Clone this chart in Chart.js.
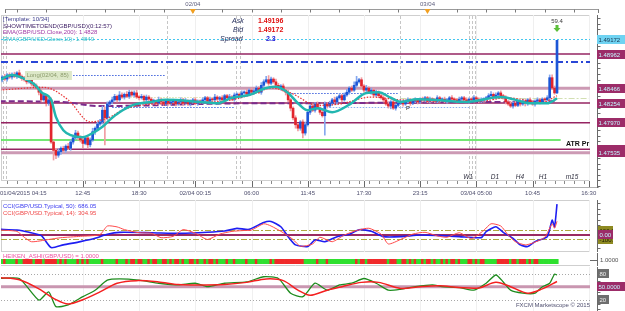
<!DOCTYPE html>
<html>
<head>
<meta charset="utf-8">
<script src="https://cdn.jsdelivr.net/npm/chart.js@4.4.1/dist/chart.umd.min.js"></script>
<style>
html,body{margin:0;padding:0;background:#fff;}
#wrap{position:relative;width:625px;height:311px;overflow:hidden;background:#fff;}
canvas{position:absolute;left:0;}
</style>
</head>
<body>
<div id="wrap">
<canvas id="mainCanvas" width="625" height="197" style="top:0px"></canvas>
<canvas id="cciCanvas" width="625" height="56" style="top:197px"></canvas>
<canvas id="haCanvas" width="625" height="13" style="top:253px"></canvas>
<canvas id="stoCanvas" width="625" height="45" style="top:266px"></canvas>
</div>
<script>
// m15 GBP/USD candles, prices in pips above 1.4700
const BASE = 1.47, PIP = 0.0001;
const firstOpen = 156;
const closes = [
  159,163,160,166,163, 167,164,169,164,161,159, 156,159,153,150,147, 141,130,136,125, 130,69,57,
  50,55,60,57,63,60, 69,75,82,76,72, 67,75,65,72, 84,89,95,98, 115,104,124,127,
  130,135,130,137,134, 138,135,141,137,140,134, 133,135,130,134,131,128,
  128,125,130,127,124,128,125,127, 128,124,127,130,125,128,124,127,130,125,128,127,
  130,133,128,131,130,134,131,133,130,136,133,134,131,137, 138,136,140,141,138,144,141,143,147,141,
  151,156,159,154,160,156, 151,147,150,144,141, 130,118,104,94,89,98, 82,94,112,
  121,115,124,118, 112,107,124,121, 125,130,127,133,136,130, 137,141,147,144,151,156,159,
  150,144,147,141, 144,137,141,136,133, 130,124,121,127,118,122,125,
  127,124,128,130,125,128,130,127,131,
  130,133,128,131,130,128,133,130,131,128,130,133,131,130,128,131,133,130,128,131,130,133,131,128,130,131,133,
  136,138,134,137,140,136,133, 127,124,121,125,122,127,124, 128,125,130,127,124,128,130,127,131,
  130,133, 162,147,140,216
];
const upWick = [
  3,2,4,2,3,2,3,2,4,2, 3,2,3,2,2,3,2,4,3,2, 2,3,2,3,4,2,3,2,4,3, 2,4,3,2,3,2,4,3,5,2,
  3,4,6,5,3,2,4,3,2,5, 3,2,4,3,2,3,4,2,3,2, 3,2,2,3,2,4,2,3,2,3, 2,3,2,2,3,2,4,2,3,2,
  3,2,2,3,2,2,3,2,4,2, 2,3,2,2,4,2,3,2,2,3, 2,4,2,3,2,3,2,4,3,5, 6,3,2,4,3,2,3,2,3,2,
  2,3,2,2,3,4,3,2,3,2, 3,2,4,3,2,3,2,4,2,3, 2,3,4,2,3,5,8,2,3,2, 4,2,3,2,3,2,2,3,2,3,
  2,3,2,2,3,2,2,3,2,2, 3,2,2,3,2,2,3,2,2,3, 2,2,3,2,2,3,2,2,3,2, 2,3,2,2,3,2,2,3,2,2,
  3,4,2,3,2,3,2,3,2,4, 2,3,2,2,3,2,2,3,2,2, 3,2,2,2,3,4,4,3,0
];
const downWick = [
  2,3,2,3,2,3,2,3,2,3, 2,3,2,3,2,2,4,3,2,4, 3,2,14,5,3,4,2,3,2,3, 3,2,4,3,6,2,5,3,2,4,
  3,2,3,39,3,2,3,2,3,2, 2,3,2,3,2,3,2,3,2,3, 2,3,2,3,2,2,3,2,2,3, 2,2,3,2,2,3,2,2,3,2,
  2,3,2,2,3,2,2,3,2,2, 3,2,2,3,2,2,3,2,2,3, 2,3,2,2,3,2,2,3,2,2, 3,2,2,3,2,3,2,4,3,4,
  3,5,4,3,7,3,2,3,2,3, 2,3,2,28,3,2,3,2,3,2, 3,2,2,3,2,2,3,2,2,3, 2,2,3,2,2,3,2,3,2,3,
  4,2,3,2,2,3,2,2,3,2, 2,3,2,2,3,2,2,3,2,2, 3,2,2,3,2,2,3,2,2,3, 2,2,3,2,2,3,2,2,3,2,
  2,3,4,2,3,2,2,3,2,2, 3,2,2,3,2,4,3,2,2,3, 2,3,2,3,2,3,2,2,1
];
// Heiken Ashi colour per bar: g = up, r = down
const haTrend = ("ggrggggrgg" + "rrrrgrrrgrrrr" + "rgrgrggggrg" + "rgrgggggrggg" +
  "ggrgggrgrrgrrggrg" + "rrggrrgrgrrgrggrrgrg" + "grgrrgrgggrggrggggrgggrg" + "ggggrgrrrrr" +
  "rrrrrrrgg" + "gggrgggrgggggggggggrg" + "rrgrrrrrrrrgrrrg" + "grrgrgrggrgrrgrggrgrgrrgrgggrrgrgrrg" +
  "ggggrrrrrgrrgr" + "rrgrgrrgggggggg").split("");

// moving averages (pips above 1.4700), sampled at bar indexes
const ema10Bars = [0,5,9,14,17,21,23,26,29,34,38,42,45,49,55,62,68,82,89,95,102,109,113,118,122,126,130,136,143,150,155,160,164,171,177,191,205,210,217,224,228];
const ema10 = [159,166,162,153,141,130,105,86,79,76,82,91,101,112,123,127,130,127,125,133,137,147,149,140,125,115,118,112,123,140,141,133,127,131,130,127,134,131,125,125,132];
const ema200Bars = [0,25,41,62,82,102,123,164,205,228];
const ema200 = [128,127,121,122,124,125,125,126,127,128];
const smaBars = [0,18,28,37,45,50,57,74,95,105,111,119,130,139,152,164,180,197,207,213,221,228];
const sma = [144,148,130,98,105,115,122,125,130,140,147,140,122,124,134,130,128,128,133,131,125,136];
const ema200Last = 1.4828, ema10Last = 1.4849;

// CCI 50 / CCI 14
const cci50Bars = [0,7,12,17,21,26,33,39,44,49,62,74,85,92,97,102,108,111,115,118,121,126,129,133,138,143,147,152,157,164,172,180,188,197,199,203,206,210,213,216,219,224,226,227,228];
const cci50 = [125,110,60,-15,-280,-220,-147,-73,15,59,51,37,60,88,147,125,279,300,183,-37,-220,-257,-110,-150,-37,15,117,82,-37,-37,0,-15,-37,-59,73,183,59,-73,-220,-257,-147,-37,330,183,686];
const cci14Bars = [0,7,10,13,20,25,33,41,44,48,51,57,62,66,71,75,80,85,90,95,100,103,108,111,116,120,123,128,131,136,141,146,151,156,159,164,169,174,179,183,188,193,198,201,205,208,211,215,218,223,226,227,228];
const cci14 = [110,80,-50,-150,-100,-60,-30,10,200,180,120,50,40,-60,-30,120,40,-100,20,80,100,110,250,200,50,-100,-250,-200,-50,-150,0,100,150,20,-200,-100,20,60,-20,-50,50,-80,100,250,200,0,-150,-220,-180,-50,250,150,305];
const cci50Last = 686.05, cci14Last = 304.95;

// stochastic %K / %D
const stochKBars = [0,8,16,20,23,28,34,39,44,49,57,65,73,80,85,92,101,108,114,119,124,129,134,139,144,149,154,159,164,170,177,181,188,194,199,203,206,209,214,219,222,225,227,228];
const stochK = [69,69,19,38,4,8,27,42,65,68,65,58,54,58,50,58,61,73,69,35,27,58,42,54,58,69,58,42,44,50,54,50,48,42,58,77,61,42,35,35,50,58,79,77];
const stochDBars = [0,8,16,23,28,34,41,48,56,65,73,81,92,101,109,116,122,127,134,140,148,155,164,172,180,188,196,203,209,216,222,228];
const stochD = [71,66,45,20,10,20,38,58,64,61,55,54,55,60,68,64,42,30,42,50,60,60,46,50,52,48,47,60,50,35,45,62];

// price levels
const bid = 1.49172, ask = 1.49196, spread = 2.3, timerPct = 59.4;
const pivots = [1.48962, 1.48466, 1.48254, 1.47970, 1.47585, 1.47535];
const entryLine = 1.48846, atrLine = 1.47719;
const markLevels = [1.48659, 1.48399, 1.48196, 1.48203, 1.48340, 1.48326];
const markFrom = [30, 118, 135, 46, 46, 164];
const markTo = [68, 163, 192, 96, 96, 241];
const sessionBreaks = [1.3, 2.5, 68.4, 96.7, 98.3, 163.8, 192, 193.3, 194.5];

// axes
const startLabel = "01/04/2015 04:15";
const timeTicks = [34, 57, 80, 103, 126, 149, 172, 195, 218, 241];
const timeLabels = ["12:45", "18:30", "02/04 00:15", "06:00", "11:45", "17:30", "23:15", "03/04 05:00", "10:45", "16:30"];
const dayTicks = [79, 175], dayLabels = ["02/04", "03/04"];
const periodLabels = ["W1", "D1", "H4", "H1", "m15"];

// ---------- helpers ----------
const FF = '"Liberation Sans", Arial, sans-serif';
const SMALL = '6px ' + FF;
const px = p => BASE + p * PIP;
const crisp = v => Math.round(v) + 0.5;
const pts = (xs, ys, f) => xs.map((b, i) => ({ x: b, y: f ? f(ys[i]) : ys[i] }));

function seg(ctx, x0, y0, x1, y1, color, w, dash) {
  ctx.save();
  ctx.strokeStyle = color; ctx.lineWidth = w || 1; ctx.setLineDash(dash || []);
  ctx.beginPath(); ctx.moveTo(x0, y0); ctx.lineTo(x1, y1); ctx.stroke();
  ctx.restore();
}
function txt(ctx, s, x, y, color, align, font) {
  ctx.save();
  ctx.font = font || SMALL; ctx.fillStyle = color;
  ctx.textAlign = align || 'left'; ctx.textBaseline = 'middle';
  ctx.fillText(s, x, y);
  ctx.restore();
}
function tag(ctx, s, x, yc, w, bg, fg) {
  const top = Math.round(yc - 4.5);
  ctx.save();
  ctx.fillStyle = bg; ctx.fillRect(x, top, w, 9);
  ctx.beginPath(); ctx.rect(x, top, w, 9); ctx.clip();
  ctx.font = SMALL; ctx.fillStyle = fg; ctx.textBaseline = 'middle';
  ctx.fillText(s, x + 1.5, top + 5);
  ctx.restore();
}
function rightAxis(ctx, top, bottom) {
  seg(ctx, 597.5, top, 597.5, bottom, '#6a6a6a', 1);
  for (let yy = top + 3; yy < bottom; yy += 5.6) seg(ctx, 598, crisp(yy), 600.5, crisp(yy), '#6a6a6a', 1);
}
function frame(ctx, a) {
  ctx.save(); ctx.strokeStyle = '#cfcfcf'; ctx.lineWidth = 1;
  ctx.strokeRect(a.left + 0.5, a.top + 0.5, a.right - a.left - 1, a.bottom - a.top - 1);
  ctx.restore();
}
const xScale = { type: 'linear', min: 0.5, max: 241.5, offset: false, grid: { offset: false }, display: false };
const baseOpts = (pad, ymin, ymax) => ({
  responsive: false, animation: false, devicePixelRatio: 1,
  layout: { padding: pad },
  scales: { x: xScale, y: { display: false, min: ymin, max: ymax } },
  plugins: { legend: { display: false }, tooltip: { enabled: false } }
});

// ---------- main price panel ----------
const opens = closes.map((c, i) => i === 0 ? firstOpen : closes[i - 1]);
const isUp = closes.map((c, i) => c >= opens[i]);
const bodies = closes.map((c, i) => ({ x: i, y: [px(opens[i]), px(c)] }));
const wicks = closes.map((c, i) => ({ x: i, y: [px(Math.min(opens[i], c) - downWick[i]), px(Math.max(opens[i], c) + upWick[i])] }));

const mainDeco = {
  id: 'mainDeco',
  beforeDatasetsDraw(chart) {
    const { ctx, chartArea: a, scales: { x, y } } = chart;
    const X = v => x.getPixelForValue(v), Y = v => y.getPixelForValue(v);
    frame(ctx, a);
    timeTicks.forEach(t => seg(ctx, crisp(X(t)), a.top, crisp(X(t)), a.bottom, '#efefef', 1));
    sessionBreaks.forEach(t => seg(ctx, crisp(X(t)), a.top + 1, crisp(X(t)), a.bottom, '#c6c6c6', 1, [3, 2]));
    const hl = (price, color, w, dash, b0, b1) => {
      const yy = w === 1 ? crisp(Y(price)) : Y(price);
      const x0 = b0 == null ? a.left : X(b0), x1 = b1 == null ? a.right : Math.min(a.right, X(b1));
      seg(ctx, x0, yy, x1, yy, color, w, dash);
    };
    pivots.forEach((p, i) => {
      if (i === 1 || i === 5) hl(p, '#cc9ab4', 3);
      else hl(p, '#952462', 1.5);
    });
    hl(bid, '#46c6ee', 1, [2, 2]);
    hl(entryLine, '#2a46d6', 2, [7, 3, 2, 3]);
    hl(atrLine, '#44e044', 1.5, [], null, 229.5);
    const markStyle = [['#4466dd', [1.5, 1.5]], ['#4466dd', [1.5, 1.5]], ['#8cb0f2', [1.5, 1.5]],
                       ['#4a72e0', [1.5, 1.5]], ['#dfe2ac', [1.5, 1.5]], ['#d2dfb2', [6, 2, 2, 2]]];
    markLevels.forEach((p, i) => hl(p, markStyle[i][0], 1, markStyle[i][1], markFrom[i], markTo[i]));
  },
  afterDatasetsDraw(chart) {
    const { ctx, chartArea: a, scales: { x, y } } = chart;
    const X = v => x.getPixelForValue(v), Y = v => y.getPixelForValue(v);
    // top date axis
    seg(ctx, 5, 9.5, 599, 9.5, '#9a9a9a', 1);
    seg(ctx, 5.5, 9.5, 5.5, 13, '#7a7a7a', 1);
    seg(ctx, 598.5, 9.5, 598.5, 13, '#7a7a7a', 1);
    for (let b = 7; b <= 241; b += 12) seg(ctx, crisp(X(b)), 9.5, crisp(X(b)), 12.5, '#7a7a7a', 1);
    dayTicks.forEach((b, i) => {
      const p = X(b);
      ctx.save(); ctx.fillStyle = '#f2a020';
      ctx.beginPath(); ctx.moveTo(p - 3, 9); ctx.lineTo(p + 3, 9); ctx.lineTo(p, 14); ctx.closePath(); ctx.fill();
      ctx.restore();
      txt(ctx, dayLabels[i], p, 4, '#5c5c7c', 'center');
    });
    // bottom time axis
    for (let b = 3; b <= 241; b += 4) seg(ctx, crisp(X(b)), a.bottom, crisp(X(b)), a.bottom + 3, '#8a8a8a', 1);
    seg(ctx, 0, a.bottom + 6.5, 599, a.bottom + 6.5, '#b0b0b0', 1);
    timeTicks.forEach((b, i) => {
      seg(ctx, crisp(X(b)), a.bottom, crisp(X(b)), a.bottom + 6, '#6a6a6a', 1);
      txt(ctx, timeLabels[i], X(b), 193, '#4e4e6e', 'center');
    });
    txt(ctx, startLabel, 0, 193, '#4e4e6e', 'left');
    // right price axis
    rightAxis(ctx, a.top, a.bottom + 7);
    tag(ctx, bid.toFixed(5), 597, Y(bid), 28, '#6fd3f2', '#17364f');
    pivots.forEach(p => tag(ctx, p.toFixed(5), 597, Y(p), 28, '#9c2c68', '#c4f6ff'));
    // info texts
    txt(ctx, '[Template: 10/34]', 3, 19.5, '#3c3c8c');
    txt(ctx, 'SHOWTIMETOEND(GBP/USD)(0:12:57)', 3, 26, '#3a1a62');
    txt(ctx, 'EMA(GBP/USD.Close,200): ' + ema200Last.toFixed(4), 3, 32.5, '#a03aa6');
    txt(ctx, 'EMA(GBP/USD.Close,10): ' + ema10Last.toFixed(4), 3, 39, '#3cc0c8');
    const IT = 'italic 7px ' + FF, BD = 'bold 7px ' + FF;
    txt(ctx, 'Ask', 232, 21, '#26305e', 'left', IT);
    txt(ctx, ask.toFixed(5), 258, 21, '#e01010', 'left', BD);
    txt(ctx, 'Bid', 233, 30, '#26305e', 'left', IT);
    txt(ctx, bid.toFixed(5), 258, 30, '#e01010', 'left', BD);
    txt(ctx, 'Spread', 220, 39, '#26305e', 'left', IT);
    txt(ctx, spread.toFixed(1), 266, 39, '#2020d8', 'left', BD);
    // timer arrow above the live bar
    const lx = X(228);
    txt(ctx, timerPct.toFixed(1), lx, 21, '#3a3a3a', 'center');
    ctx.save(); ctx.fillStyle = '#5cbf3a';
    ctx.fillRect(lx - 1.5, 25, 3, 3);
    ctx.beginPath(); ctx.moveTo(lx - 3.5, 28); ctx.lineTo(lx + 3.5, 28); ctx.lineTo(lx, 32); ctx.closePath(); ctx.fill();
    ctx.restore();
    // long order label
    const ly = Y(markLevels[0]);
    ctx.save(); ctx.fillStyle = '#dde8c8'; ctx.fillRect(X(10.3), Math.round(ly) - 4, X(29.5) - X(10.3), 9); ctx.restore();
    txt(ctx, 'Long(02/04, 85)', X(10.3) + 1.5, Math.round(ly) + 0.5, '#8c9c6c');
    txt(ctx, 'P', X(167), Y(markLevels[2]) + 1, '#202020', 'center', '6px ' + FF);
    txt(ctx, 'ATR Pr', 566, 144, '#101010', 'left', 'bold 7px ' + FF);
    const perX = [468, 495, 520, 543, 572];
    periodLabels.forEach((s, i) => txt(ctx, s, perX[i], 177, '#2e2e3e', 'center', 'italic 6.5px ' + FF));
  }
};

new Chart(document.getElementById('mainCanvas'), {
  type: 'bar',
  data: {
    datasets: [
      { type: 'line', data: pts(ema200Bars, ema200, px), borderColor: '#7b2c8c', borderWidth: 2, borderDash: [6, 3],
        pointRadius: 0, cubicInterpolationMode: 'monotone', order: 4 },
      { data: wicks, backgroundColor: isUp.map(u => u ? '#86a8ee' : '#f19ca2'), barThickness: 1, grouped: false, order: 3 },
      { data: bodies, backgroundColor: isUp.map(u => u ? '#1c56d6' : '#e2252d'), barThickness: 2, minBarLength: 1, grouped: false, order: 2 },
      { type: 'line', data: pts(smaBars, sma, px), borderColor: '#e83030', borderWidth: 1.2, borderDash: [1.5, 1.5],
        pointRadius: 0, cubicInterpolationMode: 'monotone', order: 1 },
      { type: 'line', data: pts(ema10Bars, ema10, px), borderColor: '#22b6b0', borderWidth: 2.5,
        pointRadius: 0, cubicInterpolationMode: 'monotone', order: 0 }
    ]
  },
  options: baseOpts({ left: 1, right: 35, top: 15, bottom: 16 }, px(12.7), px(252.6)),
  plugins: [mainDeco]
});

// ---------- CCI panel ----------
const cciDeco = {
  id: 'cciDeco',
  beforeDatasetsDraw(chart) {
    const { ctx, chartArea: a, scales: { x, y } } = chart;
    const X = v => x.getPixelForValue(v), Y = v => y.getPixelForValue(v);
    frame(ctx, a);
    timeTicks.forEach(t => seg(ctx, crisp(X(t)), a.top, crisp(X(t)), a.bottom, '#efefef', 1));
    seg(ctx, a.left, crisp(Y(100)), a.right, crisp(Y(100)), '#b0a840', 1, [6, 2, 2, 2]);
    seg(ctx, a.left, crisp(Y(-100)), a.right, crisp(Y(-100)), '#b0a840', 1, [6, 2, 2, 2]);
    seg(ctx, a.left, Y(0), a.right, Y(0), '#9a2a62', 2);
  },
  afterDatasetsDraw(chart) {
    const { ctx, chartArea: a, scales: { y } } = chart;
    const Y = v => y.getPixelForValue(v);
    txt(ctx, 'CCI(GBP/USD.Typical, 50): ' + cci50Last.toFixed(2), 3, 9, '#3a3af0');
    txt(ctx, 'CCI(GBP/USD.Typical, 14): ' + cci14Last.toFixed(2), 3, 16, '#f04848');
    rightAxis(ctx, a.top, a.bottom);
    tag(ctx, '100.00', 598, Y(100), 15, '#8e8a22', '#1a1a00');
    tag(ctx, '-100.0', 598, Y(-100), 15, '#8e8a22', '#1a1a00');
    tag(ctx, '0.00', 598, Y(0), 15, '#9c2c68', '#c4f6ff');
  }
};
new Chart(document.getElementById('cciCanvas'), {
  type: 'line',
  data: {
    datasets: [
      { data: pts(cci14Bars, cci14), borderColor: '#ff4a4a', borderWidth: 1, pointRadius: 0, tension: 0.2 },
      { data: pts(cci50Bars, cci50), borderColor: '#1e1ef2', borderWidth: 1.6, pointRadius: 0, tension: 0.2 }
    ]
  },
  options: baseOpts({ left: 1, right: 35, top: 3, bottom: 1 }, -378, 778),
  plugins: [cciDeco]
});

// ---------- Heiken Ashi strip ----------
const haDeco = {
  id: 'haDeco',
  afterDatasetsDraw(chart) {
    const { ctx, chartArea: a } = chart;
    txt(ctx, 'HEIKEN_ASHI(GBP/USD) = 1.0000', 3, 3, '#ee4fa0');
    seg(ctx, 597.5, 0, 597.5, 13, '#6a6a6a', 1);
    seg(ctx, 590, 7.5, 598, 7.5, '#6a6a6a', 1);
    txt(ctx, '1.0000', 600, 7.5, '#505050');
    seg(ctx, a.left, 12.5, a.right, 12.5, '#cfcfcf', 1);
  }
};
new Chart(document.getElementById('haCanvas'), {
  type: 'bar',
  data: {
    datasets: [{ data: haTrend.map((t, i) => ({ x: i, y: [0, 1] })),
      backgroundColor: haTrend.map(t => t === 'g' ? '#2fe02f' : '#f02a2a'), barThickness: 2.5, grouped: false }]
  },
  options: baseOpts({ left: 1, right: 35, top: 6, bottom: 2 }, 0, 1),
  plugins: [haDeco]
});

// ---------- Stochastic panel ----------
const stoDeco = {
  id: 'stoDeco',
  beforeDatasetsDraw(chart) {
    const { ctx, chartArea: a, scales: { x, y } } = chart;
    const X = v => x.getPixelForValue(v), Y = v => y.getPixelForValue(v);
    timeTicks.forEach(t => seg(ctx, crisp(X(t)), a.top, crisp(X(t)), a.bottom, '#f0f0f0', 1));
    seg(ctx, a.left, crisp(Y(80)), a.right, crisp(Y(80)), '#a8a8a8', 1, [1, 2]);
    seg(ctx, a.left, crisp(Y(20)), a.right, crisp(Y(20)), '#a8a8a8', 1, [1, 2]);
    seg(ctx, a.left, Y(50), a.right, Y(50), '#c996b0', 3);
  },
  afterDatasetsDraw(chart) {
    const { ctx, chartArea: a, scales: { y } } = chart;
    const Y = v => y.getPixelForValue(v);
    rightAxis(ctx, a.top, a.bottom);
    tag(ctx, '80', 598, Y(80), 11, '#6e6e6e', '#f0f0f0');
    tag(ctx, '20', 598, Y(20), 11, '#6e6e6e', '#f0f0f0');
    tag(ctx, '50.0000', 597, Y(50), 28, '#9c2c68', '#c4f6ff');
    txt(ctx, 'FXCM Marketscope \u00a9 2015', 590, 39, '#505070', 'right');
  }
};
new Chart(document.getElementById('stoCanvas'), {
  type: 'line',
  data: {
    datasets: [
      { data: pts(stochDBars, stochD), borderColor: '#f42020', borderWidth: 1.5, pointRadius: 0, tension: 0.3 },
      { data: pts(stochKBars, stochK), borderColor: '#1e8c1e', borderWidth: 1.3, pointRadius: 0, tension: 0.2 }
    ]
  },
  options: baseOpts({ left: 1, right: 35, top: 1, bottom: 0 }, -6.1, 95.5),
  plugins: [stoDeco]
});
</script>
</body>
</html>
